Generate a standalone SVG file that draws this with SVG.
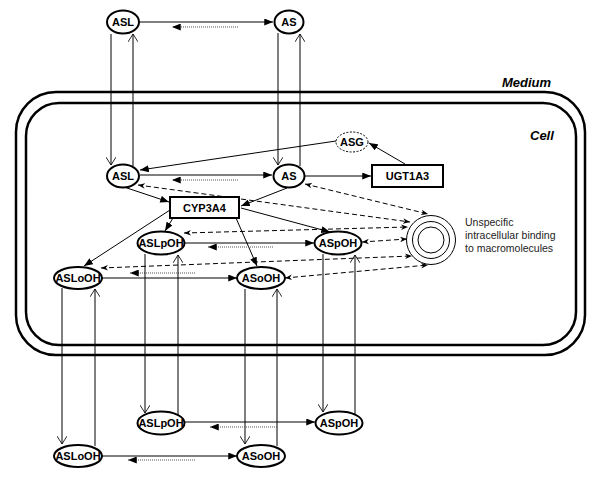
<svg xmlns="http://www.w3.org/2000/svg" width="600" height="482" viewBox="0 0 600 482">
<defs>
<style>
.mem{fill:none;stroke:#000;stroke-width:2.5}
.nd{fill:#fff;stroke:#000;stroke-width:2}
.bx{fill:#fff;stroke:#000;stroke-width:2}
.lb{font-family:"Liberation Sans",Arial,sans-serif;font-weight:bold;font-size:11px;text-anchor:middle;fill:#000}
.sol{fill:none;stroke:#000;stroke-width:1;marker-end:url(#fa)}
.dot{fill:none;stroke:#555;stroke-width:1.2;stroke-dasharray:1 1;marker-end:url(#fa)}
.vt{fill:none;stroke:#000;stroke-width:1;marker-end:url(#oa)}
.ds{fill:none;stroke:#000;stroke-width:1;stroke-dasharray:5 3;marker-start:url(#da);marker-end:url(#da)}
.tt{font-family:"Liberation Sans",Arial,sans-serif;font-weight:bold;font-style:italic;font-size:13px;fill:#000}
.bd{font-family:"Liberation Sans",Arial,sans-serif;font-size:10.5px;fill:#222}
</style>
<marker id="fa" viewBox="0 0 10 8" refX="10" refY="4" markerWidth="9" markerHeight="7" markerUnits="userSpaceOnUse" orient="auto"><path d="M0,0 L10,4 L0,8 Z" fill="#000"/></marker>
<marker id="oa" viewBox="0 0 10 12" refX="9.5" refY="6" markerWidth="9" markerHeight="10" markerUnits="userSpaceOnUse" orient="auto"><path d="M0,0 L9.5,6 L0,12" fill="none" stroke="#000" stroke-width="1"/></marker>
<marker id="da" viewBox="0 0 10 8" refX="10" refY="4" markerWidth="7" markerHeight="6" markerUnits="userSpaceOnUse" orient="auto-start-reverse"><path d="M0,0 L10,4 L0,8 L3,4 Z" fill="#000"/></marker>
</defs>
<rect width="600" height="482" fill="#fff"/>
<g id="membranes">
<rect class="mem" x="16" y="92" width="569" height="263" rx="40"/>
<rect class="mem" x="26" y="103" width="550" height="242" rx="33"/>
<text class="tt" x="502" y="87">Medium</text>
<text class="tt" x="530" y="140">Cell</text>
</g>
<g id="connectors">
<path class="sol" d="M139,22 L273,22"/>
<path class="dot" d="M238,27 L172,27"/>
<path class="vt" d="M111,34 L111,165"/>
<path class="vt" d="M133,166 L133,34"/>
<path class="vt" d="M278,33 L278,165"/>
<path class="vt" d="M300,166 L300,34"/>
<path class="sol" d="M140,175 L272,175"/>
<path class="dot" d="M238,180 L172,180"/>
<path class="sol" d="M305,176 L371,176"/>
<path class="sol" d="M405,164 L369,143"/>
<path class="sol" d="M336,141 L140,170"/>
<path class="sol" d="M124,187 L169,202"/>
<path class="sol" d="M287,188 L241,206"/>
<path class="sol" d="M173,218 L165,231"/>
<path class="sol" d="M170,210 L84,266"/>
<path class="sol" d="M236,218 L257,266"/>
<path class="sol" d="M241,208 L330,232"/>
<path class="sol" d="M185,243 L314,243"/>
<path class="dot" d="M273,247 L208,247"/>
<path class="sol" d="M102,278 L237,278"/>
<path class="dot" d="M195,273 L130,273"/>
<path class="ds" d="M138,185 L410,222"/>
<path class="ds" d="M305,184 L428,214"/>
<path class="ds" d="M184,233 L408,227"/>
<path class="ds" d="M362,242 L407,239"/>
<path class="ds" d="M101,268 L412,256"/>
<path class="ds" d="M285,278 L428,265"/>
<path class="vt" d="M62,288 L62,444"/>
<path class="vt" d="M95,446 L95,289"/>
<path class="vt" d="M145,254 L145,413"/>
<path class="vt" d="M178,416 L178,255"/>
<path class="vt" d="M245,289 L245,444"/>
<path class="vt" d="M277,446 L277,289"/>
<path class="vt" d="M323,254 L323,412"/>
<path class="vt" d="M355,415 L355,255"/>
<path class="sol" d="M185,422 L315,422"/>
<path class="dot" d="M277,427 L210,427"/>
<path class="sol" d="M102,456 L237,456"/>
<path class="dot" d="M195,460 L128,460"/>
</g>
<g id="ASL_medium"><ellipse class="nd" cx="123" cy="22" rx="16" ry="11.5"/><text class="lb" x="123" y="26">ASL</text></g>
<g id="AS_medium"><ellipse class="nd" cx="289" cy="22" rx="14.5" ry="11.5"/><text class="lb" x="289" y="26">AS</text></g>
<g id="ASL_cell"><ellipse class="nd" cx="123" cy="176" rx="16" ry="11.5"/><text class="lb" x="123" y="180">ASL</text></g>
<g id="AS_cell"><ellipse class="nd" cx="289" cy="176" rx="15.5" ry="11.5"/><text class="lb" x="289" y="180">AS</text></g>
<g id="ASG"><ellipse cx="352" cy="142" rx="16" ry="10" fill="#fff" stroke="#000" stroke-width="1" stroke-dasharray="2 1.5"/><text class="lb" x="352" y="146">ASG</text></g>
<g id="UGT1A3"><rect class="bx" x="372" y="165" width="71" height="22"/><text class="lb" x="407.5" y="180">UGT1A3</text></g>
<g id="CYP3A4"><rect class="bx" x="170" y="197" width="69" height="21"/><text class="lb" x="204.5" y="211.5">CYP3A4</text></g>
<g id="binding">
<circle cx="431" cy="240" r="24.5" fill="#fff" stroke="#000" stroke-width="1"/>
<circle cx="431" cy="240" r="18.5" fill="none" stroke="#000" stroke-width="1"/>
<circle cx="431" cy="240" r="13" fill="none" stroke="#000" stroke-width="1"/>
<text class="bd" x="465" y="226">Unspecific</text>
<text class="bd" x="465" y="239">intracellular binding</text>
<text class="bd" x="465" y="252">to macromolecules</text>
</g>
<g id="ASLpOH_cell"><ellipse class="nd" cx="161" cy="243" rx="23.5" ry="11.5"/><text class="lb" x="161" y="247">ASLpOH</text></g>
<g id="ASpOH_cell"><ellipse class="nd" cx="338" cy="243" rx="23.5" ry="11.5"/><text class="lb" x="338" y="247">ASpOH</text></g>
<g id="ASLoOH_cell"><ellipse class="nd" cx="78" cy="278" rx="24" ry="11"/><text class="lb" x="78" y="282">ASLoOH</text></g>
<g id="ASoOH_cell"><ellipse class="nd" cx="261" cy="278" rx="24" ry="11"/><text class="lb" x="261" y="282">ASoOH</text></g>
<g id="ASLpOH_medium"><ellipse class="nd" cx="161" cy="423" rx="23.5" ry="11.5"/><text class="lb" x="161" y="427">ASLpOH</text></g>
<g id="ASpOH_medium"><ellipse class="nd" cx="339" cy="423" rx="23.5" ry="11.5"/><text class="lb" x="339" y="427">ASpOH</text></g>
<g id="ASLoOH_medium"><ellipse class="nd" cx="78" cy="456" rx="24" ry="11"/><text class="lb" x="78" y="460">ASLoOH</text></g>
<g id="ASoOH_medium"><ellipse class="nd" cx="261" cy="456" rx="24" ry="11"/><text class="lb" x="261" y="460">ASoOH</text></g>
</svg>
